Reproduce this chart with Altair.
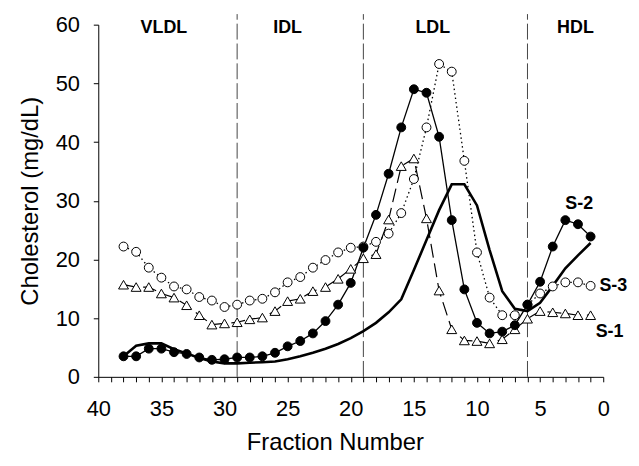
import altair as alt
import pandas as pd

fractions = list(range(38, 0, -1))

# S-1: open triangles, dashed line
s1 = [15.7, 15.3, 15.3, 14.2, 13.5, 12.2, 10.5, 8.9, 9.1, 9.3, 9.8, 10.1, 11.2,
      12.9, 13.3, 14.6, 15.3, 16.7, 18.4, 20.2, 20.9, 26.8, 35.9, 37.2, 27.0,
      14.7, 8.1, 6.2, 6.1, 5.7, 6.4, 8.1, 9.9, 11.2, 11.0, 10.8, 10.5, 10.5]
# S-2: filled circles, solid line
s2 = [3.5, 3.5, 4.8, 4.8, 4.2, 3.9, 3.3, 2.9, 3.0, 3.3, 3.3, 3.5, 4.1,
      5.2, 6.1, 7.4, 9.5, 12.3, 16.0, 22.0, 27.6, 34.6, 42.5, 49.0, 48.4,
      40.9, 26.7, 14.9, 9.2, 7.4, 7.7, 8.8, 12.3, 16.2, 22.2, 26.7, 26.0, 23.9]
# S-3: open circles, dotted line
s3 = [22.2, 21.3, 18.6, 16.9, 15.4, 14.9, 13.6, 13.0, 11.9, 12.3, 13.0, 13.3, 14.4,
      16.1, 17.0, 18.6, 19.9, 21.2, 22.0, 22.2, 23.0, 24.4, 27.9, 33.7, 42.5,
      53.3, 52.0, 36.8, 21.2, 13.5, 10.5, 10.5, 12.3, 14.2, 15.4, 16.1, 16.1, 15.5]
# thick solid line, no markers
ref = [3.5, 5.3, 5.7, 5.7, 4.7, 4.0, 3.2, 2.6, 2.3, 2.3, 2.4, 2.5, 2.6,
       3.0, 3.5, 4.1, 4.8, 5.6, 6.6, 7.8, 9.2, 11.0, 13.2, 18.2, 23.3,
       28.4, 32.8, 32.8, 29.2, 21.6, 14.6, 11.6, 11.2, 12.6, 15.5, 18.5, 20.7, 22.8]

boundaries = [29, 19, 6]
region_names = ["VLDL", "IDL", "LDL", "HDL"]
region_x = [34.8, 25.0, 13.5, 2.2]
region_y = [59.5, 59.5, 59.5, 59.5]

series_names = ["S-2", "S-3", "S-1"]
series_label_x = [1.9, -0.8, -0.5]
series_label_y = [29.5, 15.5, 7.7]

x_tick_values = list(range(0, 41))
y_tick_values = [0, 10, 20, 30, 40, 50, 60]

FONT = "Liberation Sans"

df = pd.DataFrame({
    "fraction": fractions * 4,
    "value": s1 + s2 + s3 + ref,
    "series": ["S-1"] * 38 + ["S-2"] * 38 + ["S-3"] * 38 + ["Ref"] * 38,
})

xscale = alt.Scale(domain=[0, 40], reverse=True, nice=False)
yscale = alt.Scale(domain=[0, 60], nice=False)

xaxis = alt.Axis(values=x_tick_values,
                 labelExpr="datum.value % 5 == 0 ? datum.label : ''",
                 labelOverlap=False, labelFlush=False, labelBound=False,
                 tickSize=5, labelPadding=17, titlePadding=11,
                 titleX=238.5, grid=False,
                 labelFont=FONT, titleFont=FONT, labelFontSize=22, titleFontSize=24,
                 titleFontWeight="normal", labelColor="black", titleColor="black",
                 domainColor="black", tickColor="black")
yaxis = alt.Axis(values=y_tick_values,
                 labelFlush=False, labelOverlap=False, tickSize=5, labelPadding=14,
                 titlePadding=13, grid=False,
                 labelFont=FONT, titleFont=FONT, labelFontSize=22, titleFontSize=24,
                 titleFontWeight="normal", labelColor="black", titleColor="black",
                 domainColor="black", tickColor="black")

xenc = alt.X("fraction:Q", scale=xscale, title="Fraction Number", axis=xaxis)
yenc = alt.Y("value:Q", scale=yscale, title="Cholesterol (mg/dL)", axis=yaxis)

base = alt.Chart(df).encode(x=xenc, y=yenc)

def sel(name):
    return alt.datum.series == name

line_ref = base.transform_filter(sel("Ref")).mark_line(color="black", strokeWidth=2.6)
line_s1 = base.transform_filter(sel("S-1")).mark_line(color="black", strokeWidth=1.2, strokeDash=[14, 6])
line_s2 = base.transform_filter(sel("S-2")).mark_line(color="black", strokeWidth=1.3)
line_s3 = base.transform_filter(sel("S-3")).mark_line(color="black", strokeWidth=1.3, strokeDash=[1.5, 3])

pts_s1 = base.transform_filter(sel("S-1")).mark_point(
    shape="triangle-up", size=100, filled=True, fill="white", stroke="black", strokeWidth=1, opacity=1)
pts_s3 = base.transform_filter(sel("S-3")).mark_point(
    shape="circle", size=80, filled=True, fill="white", stroke="black", strokeWidth=1, opacity=1)
pts_s2 = base.transform_filter(sel("S-2")).mark_point(
    shape="circle", size=80, filled=True, fill="black", stroke="black", strokeWidth=1, opacity=1)

bdf = pd.DataFrame({"fraction": boundaries, "value": [0] * len(boundaries),
                    "value2": [61.8] * len(boundaries)})
rules = alt.Chart(bdf).mark_rule(color="#444444", strokeWidth=1, strokeDash=[16, 4], clip=False).encode(
    x=xenc, y=yenc, y2="value2:Q")

rdf = pd.DataFrame({"fraction": region_x, "value": region_y, "t": region_names})
region_text = alt.Chart(rdf).mark_text(font=FONT, fontSize=18, fontWeight="bold", color="black",
                                       baseline="middle", align="center", clip=False).encode(
    x=xenc, y=yenc, text="t:N")

sdf = pd.DataFrame({"fraction": series_label_x, "value": series_label_y, "t": series_names})
series_text = alt.Chart(sdf).mark_text(font=FONT, fontSize=18, fontWeight="bold", color="black",
                                       baseline="middle", align="center", clip=False).encode(
    x=xenc, y=yenc, text="t:N")

chart = alt.layer(
    rules, line_ref, line_s1, line_s3, line_s2, pts_s1, pts_s3, pts_s2, region_text, series_text
).properties(
    width=509, height=355,
    autosize=alt.AutoSizeParams(type="none"),
    padding={"left": 91, "top": 15, "right": 28, "bottom": 80},
    background="white",
).configure_view(stroke=None)

chart.save("out.html", embed_options={"renderer": "svg", "actions": False})
